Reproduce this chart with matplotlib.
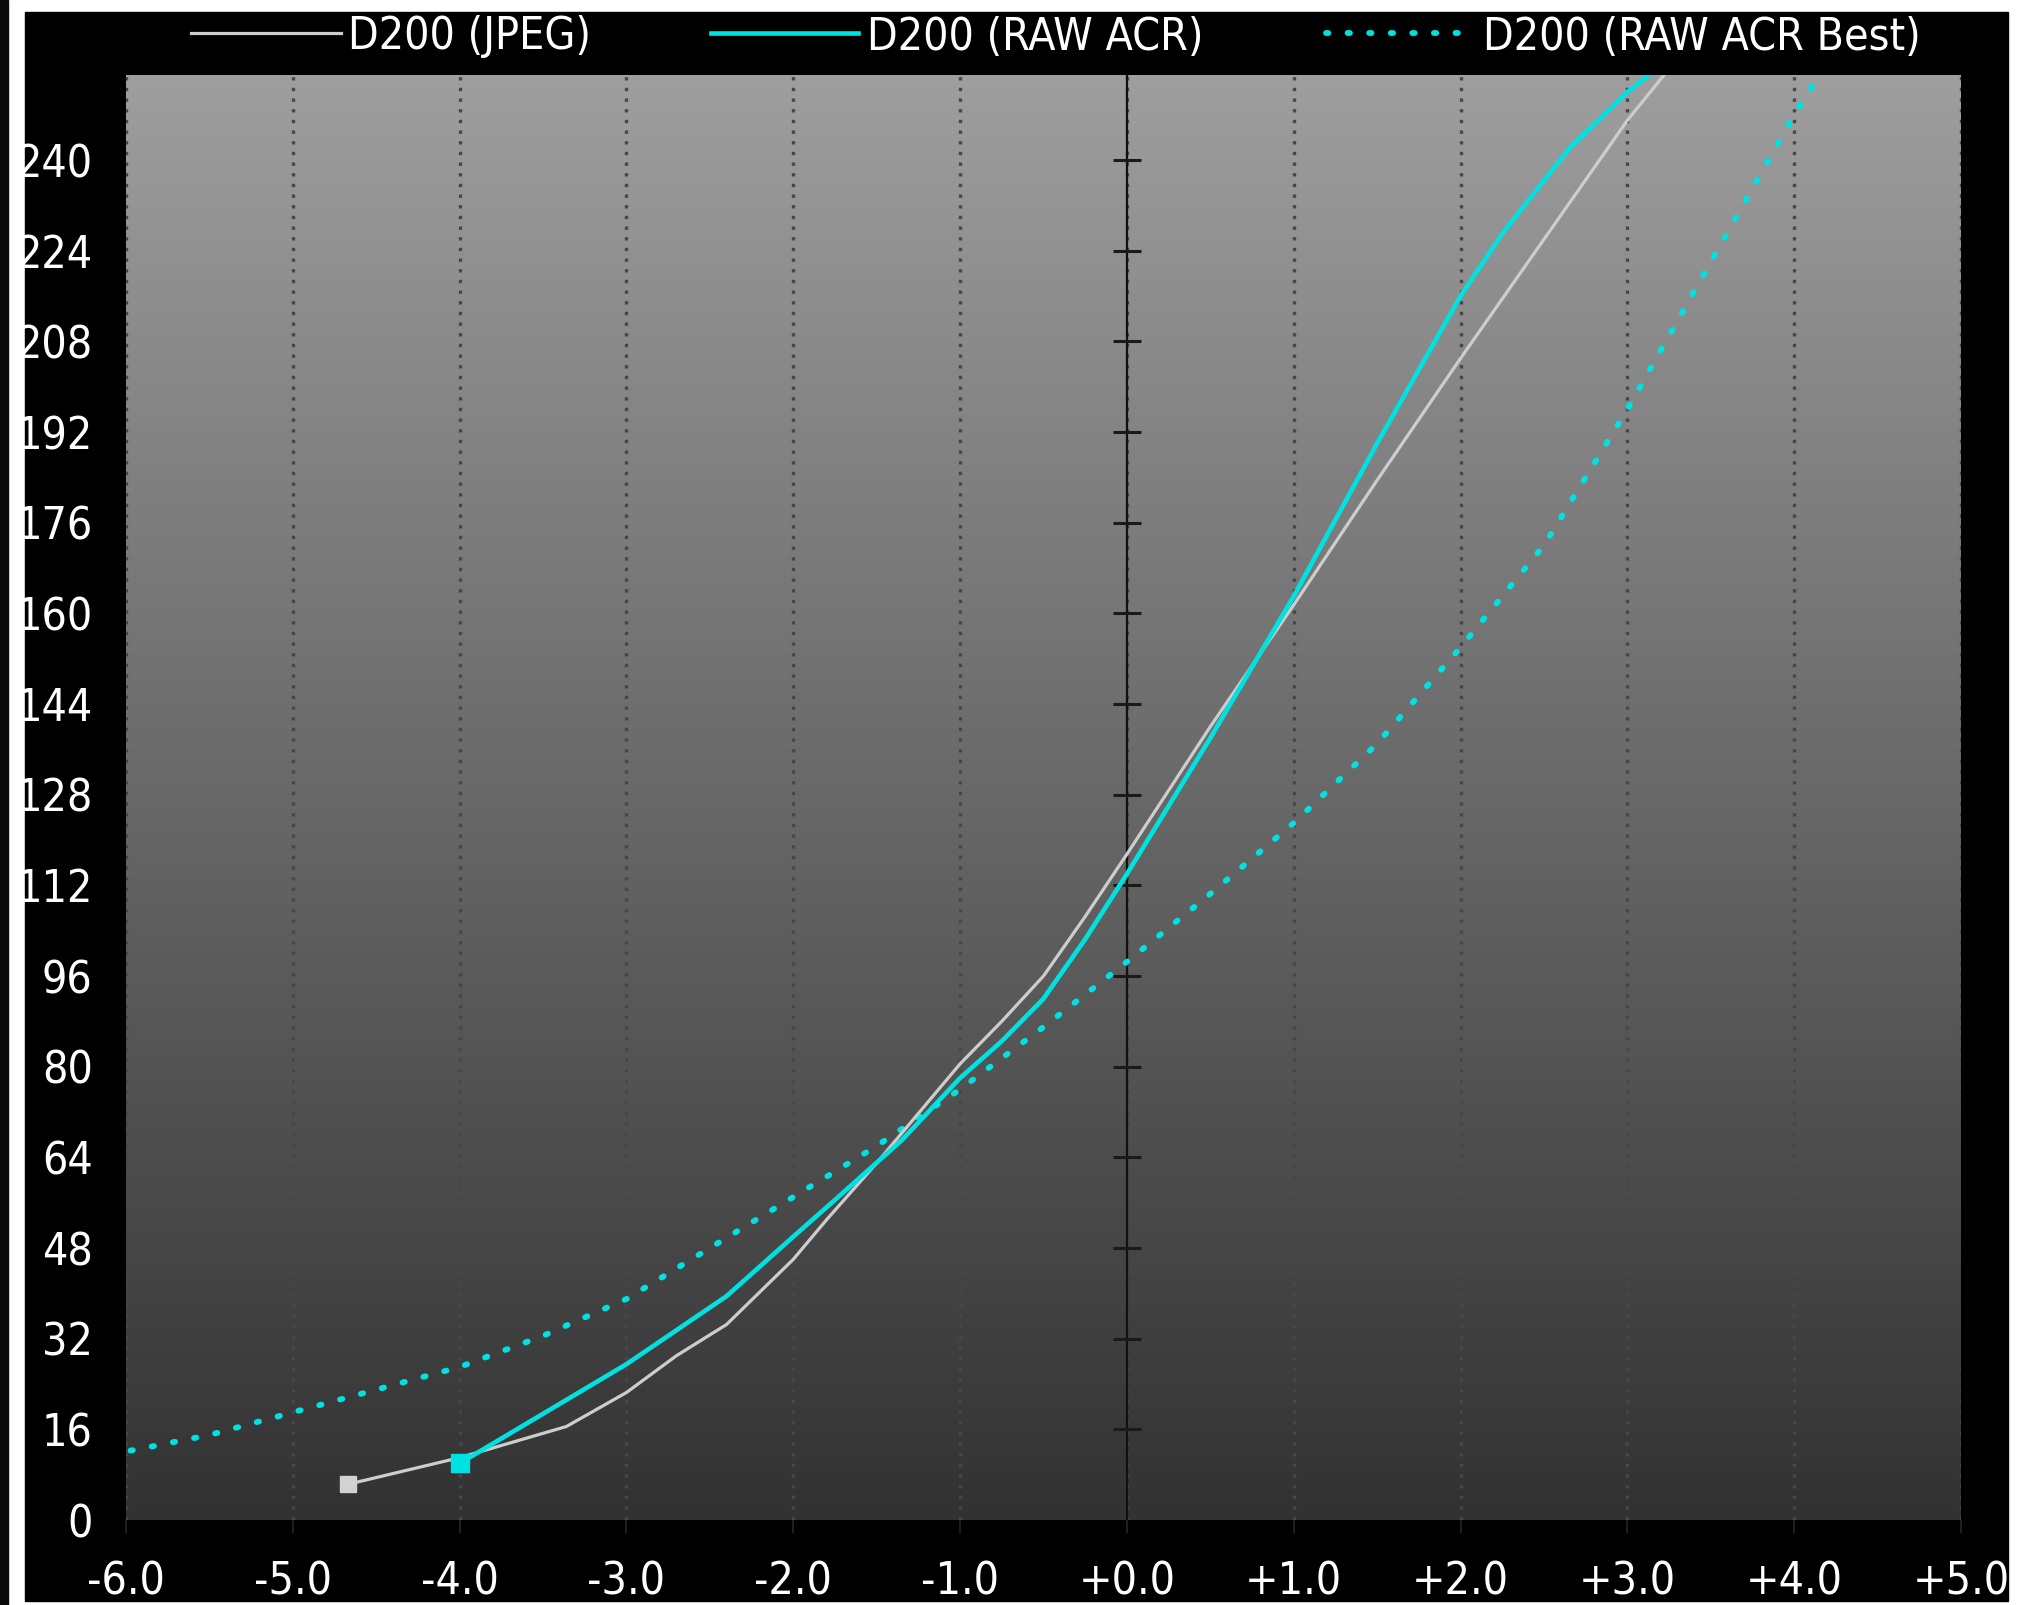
import numpy as np
import matplotlib
matplotlib.use("Agg")
import matplotlib.pyplot as plt
from matplotlib import font_manager
from matplotlib.colors import LinearSegmentedColormap
from matplotlib.lines import Line2D
from matplotlib.patches import Rectangle

# Exposure offset (EV) vs. output level for three D200 processing paths
ev_jpeg = [-4.67, -4.0, -3.36, -3.0, -2.7, -2.4, -2.0, -1.8, -1.5, -1.2, -1.0,
           -0.75, -0.5, -0.25, 0.0, 0.5, 1.0, 1.5, 2.0, 2.5, 3.0, 3.22]
lvl_jpeg = [6.3, 11, 16.5, 22.5, 29, 34.5, 46, 53, 63, 73.5, 80.5,
            88, 96, 106.5, 117.5, 140, 161.5, 183.5, 205, 226, 247, 255]

ev_raw = [-4.0, -3.4, -3.0, -2.7, -2.4, -2.0, -1.75, -1.35, -1.0, -0.75, -0.5,
          -0.25, 0.0, 0.5, 1.0, 1.5, 2.0, 2.25, 2.65, 3.0, 3.13]
lvl_raw = [10, 20.5, 27.5, 33.5, 39.5, 50, 56.5, 67, 78, 84.5, 92,
           102.5, 114, 138, 163, 190, 216, 227, 242, 252, 255]

ev_best = [-6.1, -5.5, -5.0, -4.5, -4.0, -3.5, -3.0, -2.5, -2.0, -1.5, -1.0,
           -0.5, 0.0, 0.5, 1.0, 1.5, 2.0, 2.5, 3.0, 3.5, 4.0, 4.15]
lvl_best = [11.5, 15, 19, 23, 27, 32.5, 39, 48, 57, 66, 76,
            87, 98.5, 110.5, 123, 137, 154, 172, 196, 222, 248, 255]

series_names = ["D200 (JPEG)", "D200 (RAW ACR)", "D200 (RAW ACR Best)"]
x_ticks = [-6, -5, -4, -3, -2, -1, 0, 1, 2, 3, 4, 5]
x_tick_labels = ["-6.0", "-5.0", "-4.0", "-3.0", "-2.0", "-1.0",
                 "+0.0", "+1.0", "+2.0", "+3.0", "+4.0", "+5.0"]
y_ticks = list(range(0, 241, 16))

# prefer a condensed sans for the labels
_fonts = font_manager.fontManager.ttflist
_has_cond = any(f.name == "DejaVu Sans" and f.stretch == "condensed" for f in _fonts)
if _has_cond:
    FAMILY, STRETCH, FS = ["DejaVu Sans"], "condensed", 32
else:
    FAMILY, STRETCH, FS = ["Liberation Sans", "DejaVu Sans"], "normal", 31
plt.rcParams["font.family"] = FAMILY
plt.rcParams["font.stretch"] = STRETCH

W, H = 2023, 1605
GRAY = "#cdcdcd"
CYAN = "#00e2e2"

fig = plt.figure(figsize=(W / 100, H / 100), dpi=100)
fig.patch.set_facecolor("white")

# dark frame behind the chart and a thin edge strip at the far left
fig.add_artist(Rectangle((0, 0), 8 / W, 1, transform=fig.transFigure,
                         color="#0a0a0a", zorder=0))
fig.add_artist(Rectangle((25 / W, 4 / H), (2008 - 25) / W, (1601 - 12) / H,
                         transform=fig.transFigure, color="black", zorder=0))

ax = fig.add_axes([126 / W, (H - 1520) / H, 1835 / W, 1445 / H])
ax.set_xlim(-6, 5)
ax.set_ylim(0, 255)
for s in ax.spines.values():
    s.set_visible(False)
ax.set_facecolor("none")

# vertical gradient plot background
cmap = LinearSegmentedColormap.from_list("bg", ["#323232", "#9e9e9e"])
grad = np.linspace(0, 1, 256).reshape(-1, 1)
ax.imshow(grad, extent=[-6, 5, 0, 255], origin="lower", aspect="auto",
          cmap=cmap, zorder=0, interpolation="bilinear")

# dotted vertical grid
ax.set_xticks(x_ticks)
ax.set_xticklabels(x_tick_labels)
ax.set_yticks(y_ticks)
ax.xaxis.grid(True, color="#474747", lw=2.4, linestyle=(0, (1, 2.2)), zorder=1)
ax.yaxis.grid(False)
ax.set_axisbelow(True)

# solid zero axis with its own tick marks
ax.axvline(0, color="#111111", lw=1.6, zorder=2)
ax.plot(np.zeros(len(y_ticks) - 1), y_ticks[1:], ls="none", marker="_",
        ms=20, mew=2.2, color="#1a1a1a", zorder=2)

# curves
ax.plot(ev_best, lvl_best, color=CYAN, lw=4.2, dashes=(0.4, 3.3),
        dash_capstyle="round", zorder=3)
ax.plot(ev_jpeg, lvl_jpeg, color=GRAY, lw=2.3, zorder=4,
        solid_joinstyle="round")
ax.plot(ev_raw, lvl_raw, color=CYAN, lw=3.3, zorder=5,
        solid_joinstyle="round")
ax.plot(ev_jpeg[0], lvl_jpeg[0], marker="s", ms=11, color="#d2d2d2",
        ls="none", zorder=6)
ax.plot(ev_raw[0], lvl_raw[0], marker="s", ms=13, color=CYAN,
        ls="none", zorder=6)

ax.tick_params(axis="y", length=0, pad=24, labelcolor="white", labelsize=FS)
ax.tick_params(axis="x", length=9, width=1.5, color="#1e1e1e", pad=20,
               labelcolor="white", labelsize=FS)

# legend row across the top of the frame
ly_line = 1 - 33 / H
ly_text = 1 - 37 / H
legend_items = [
    (191, 341, 348, dict(color=GRAY, lw=2.3)),
    (711, 858, 867, dict(color=CYAN, lw=3.3)),
    (1326, 1476, 1483, dict(color=CYAN, lw=4.2, dashes=(0.4, 3.3),
                            dash_capstyle="round")),
]
for name, (x0, x1, xt, style) in zip(series_names, legend_items):
    fig.add_artist(Line2D([x0 / W, x1 / W], [ly_line, ly_line],
                          transform=fig.transFigure, **style))
    fig.text(xt / W, ly_text, name, color="white", fontsize=FS,
             ha="left", va="center")

fig.savefig("out.png", dpi=100, facecolor=fig.get_facecolor())
